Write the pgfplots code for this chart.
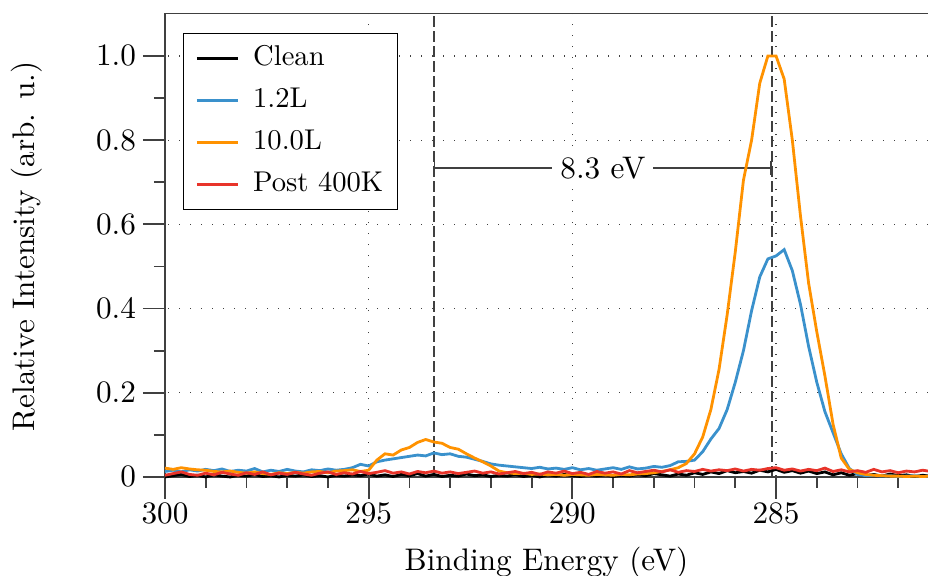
\documentclass[border=0pt]{standalone}
\usepackage{fontspec}
\setmainfont{lmroman10-regular.otf}
\usepackage{pgfplots}
\usepackage{pgfplotstable}
\pgfplotsset{compat=1.18}

\definecolor{cblue}{RGB}{58,145,204}
\definecolor{corange}{RGB}{255,146,0}
\definecolor{cred}{RGB}{232,52,42}
\definecolor{spine}{RGB}{64,64,64}

% C 1s spectra: binding energy, Clean, 1.2 L, 10.0 L, after anneal to 400 K
\pgfplotstableread{
x      clean  lA     lB     post
300.0  0.000  0.013  0.021  0.004
299.8  0.003  0.016  0.018  0.008
299.6  0.006  0.012  0.022  0.012
299.4  0.001  0.017  0.019  0.006
299.2  0.004  0.014  0.017  0.004
299.0  0.000  0.018  0.016  0.009
298.8  0.005  0.015  0.013  0.005
298.6  0.002  0.019  0.012  0.011
298.4  0.000  0.013  0.014  0.007
298.2  0.004  0.016  0.011  0.004
298.0  0.002  0.014  0.009  0.010
297.8  0.006  0.020  0.012  0.006
297.6  0.001  0.012  0.008  0.012
297.4  0.003  0.016  0.006  0.005
297.2  0.000  0.013  0.010  0.009
297.0  0.004  0.018  0.008  0.006
296.8  0.002  0.014  0.011  0.011
296.6  0.005  0.012  0.009  0.007
296.4  0.001  0.017  0.012  0.004
296.2  0.003  0.015  0.013  0.009
296.0  0.000  0.019  0.010  0.012
295.8  0.004  0.016  0.014  0.006
295.6  0.002  0.018  0.015  0.010
295.4  0.005  0.022  0.017  0.007
295.2  0.003  0.030  0.013  0.013
295.0  0.007  0.026  0.016  0.008
294.8  0.002  0.036  0.040  0.011
294.6  0.005  0.040  0.055  0.015
294.4  0.001  0.043  0.052  0.009
294.2  0.006  0.046  0.064  0.012
294.0  0.003  0.049  0.070  0.007
293.8  0.008  0.052  0.082  0.013
293.6  0.002  0.050  0.089  0.010
293.4  0.006  0.057  0.083  0.014
293.2  0.001  0.053  0.080  0.009
293.0  0.004  0.055  0.070  0.012
292.8  0.002  0.049  0.066  0.008
292.6  0.007  0.047  0.055  0.011
292.4  0.003  0.042  0.045  0.014
292.2  0.005  0.037  0.036  0.009
292.0  0.001  0.031  0.026  0.012
291.8  0.004  0.028  0.014  0.007
291.6  0.002  0.026  0.010  0.010
291.4  0.006  0.024  0.008  0.013
291.2  0.001  0.022  0.009  0.008
291.0  0.004  0.020  0.006  0.011
290.8  0.000  0.023  0.007  0.006
290.6  0.005  0.019  0.005  0.012
290.4  0.002  0.021  0.006  0.009
290.2  0.006  0.018  0.004  0.014
290.0  0.003  0.022  0.006  0.008
289.8  0.001  0.017  0.005  0.011
289.6  0.004  0.020  0.004  0.006
289.4  0.002  0.016  0.006  0.013
289.2  0.005  0.019  0.005  0.009
289.0  0.001  0.022  0.004  0.012
288.8  0.004  0.018  0.006  0.007
288.6  0.002  0.024  0.005  0.015
288.4  0.006  0.019  0.007  0.010
288.2  0.003  0.021  0.008  0.013
288.0  0.008  0.025  0.010  0.016
287.8  0.005  0.023  0.013  0.012
287.6  0.002  0.027  0.017  0.017
287.4  0.007  0.036  0.022  0.011
287.2  0.004  0.037  0.032  0.015
287.0  0.010  0.040  0.055  0.013
286.8  0.006  0.060  0.095  0.018
286.6  0.012  0.090  0.160  0.014
286.4  0.008  0.115  0.255  0.017
286.2  0.015  0.160  0.385  0.015
286.0  0.010  0.225  0.535  0.019
285.8  0.013  0.300  0.705  0.014
285.6  0.009  0.395  0.800  0.018
285.4  0.016  0.475  0.935  0.016
285.2  0.012  0.518  1.000  0.020
285.0  0.018  0.525  1.000  0.022
284.8  0.011  0.540  0.945  0.016
284.6  0.015  0.490  0.800  0.019
284.4  0.009  0.410  0.620  0.014
284.2  0.014  0.310  0.460  0.018
284.0  0.008  0.225  0.345  0.015
283.8  0.012  0.155  0.240  0.021
283.6  0.005  0.105  0.125  0.013
283.4  0.010  0.055  0.045  0.017
283.2  0.004  0.020  0.018  0.012
283.0  0.008  0.006  0.010  0.015
282.8  0.003  0.003  0.006  0.011
282.6  0.006  0.004  0.004  0.018
282.4  0.002  0.002  0.003  0.012
282.2  0.007  0.003  0.002  0.015
282.0  0.003  0.001  0.002  0.010
281.8  0.005  0.002  0.001  0.014
281.6  0.001  0.003  0.002  0.012
281.4  0.004  0.001  0.001  0.016
281.2  0.002  0.002  0.002  0.013
}\spectra

\newcommand{\labelfont}{\fontsize{15.6}{18}\selectfont}
\newcommand{\legendfont}{\fontsize{14.3}{17}\selectfont}

\begin{document}
\begin{tikzpicture}
\path[use as bounding box] (0,0) rectangle (464pt,287.5pt);
\begin{axis}[
  at={(82.5pt,38.5pt)}, anchor=south west,
  scale only axis, width=381.5pt, height=242.5pt,
  xmin=281.27, xmax=300, x dir=reverse,
  ymin=-0.05, ymax=1.102,
  axis x line=middle, axis y line=left,
  every inner x axis line/.append style={-},
  every outer y axis line/.append style={-},
  axis line style={spine, line width=0.9pt},
  hide obscured x ticks=false, hide obscured y ticks=false,
  xtick={285,290,295,300}, xticklabels={285,290,295,300},
  minor xtick={282,283,284,286,287,288,289,291,292,293,294,296,297,298,299},
  ytick={0,0.2,0.4,0.6,0.8,1.0}, yticklabels={0,0.2,0.4,0.6,0.8,1.0},
  minor ytick={0.1,0.3,0.5,0.7,0.9},
  tick align=outside,
  major tick length=11pt, minor tick length=5.5pt,
  every tick/.style={spine, line width=0.9pt},
  /pgf/number format/assume math mode=true,
  tick label style={font=\labelfont},
  xticklabel style={yshift=1.5pt},
  grid=major,
  major grid style={black!75, line width=0.6pt, dash pattern=on 0.6pt off 4.9pt},
  xlabel={Binding Energy (eV)},
  ylabel={Relative Intensity (arb. u.)},
  label style={font=\labelfont},
  x label style={at={(axis description cs:0.5,0)}, anchor=base, yshift=-36pt},
  y label style={at={([xshift=-65pt]axis description cs:0,0.5186)}, anchor=base},
  legend style={at={(axis description cs:0,1)}, anchor=north west,
    xshift=9pt, yshift=-10pt, draw=black, line width=0.6pt, fill=white,
    font=\legendfont, inner xsep=6pt, inner ysep=5pt,
    row sep=6pt, nodes={inner sep=1pt, text height=10pt, text depth=3pt},
    /tikz/every odd column/.append style={column sep=6pt}},
  legend cell align=left,
  legend image code/.code={\draw[#1, line width=1.3pt] (0pt,0pt) -- (20.5pt,0pt);},
]
% peak positions and their separation
\draw[spine, line width=0.9pt, dash pattern=on 5.5pt off 2pt] (axis cs:293.4,0) -- (axis cs:293.4,1.102);
\draw[spine, line width=0.9pt, dash pattern=on 5.5pt off 2pt] (axis cs:285.1,0) -- (axis cs:285.1,1.102);
\draw[spine, line width=0.8pt, |-|] (axis cs:293.4,0.734) -- (axis cs:285.1,0.734)
  node[midway, fill=white, text=black, inner xsep=4pt, inner ysep=2pt, font=\labelfont] {8.3 eV};

\addplot[black,   line width=1.4pt] table[x=x, y=clean] {\spectra};
\addlegendentry{Clean}
\addplot[cblue,   line width=1.4pt] table[x=x, y=lA] {\spectra};
\addlegendentry{1.2L}
\addplot[corange, line width=1.4pt] table[x=x, y=lB] {\spectra};
\addlegendentry{10.0L}
\addplot[cred,    line width=1.4pt] table[x=x, y=post] {\spectra};
\addlegendentry{Post 400K}

% top frame line
\draw[spine, line width=0.9pt] (rel axis cs:0,1) -- (rel axis cs:1,1);
\end{axis}
\end{tikzpicture}
\end{document}
